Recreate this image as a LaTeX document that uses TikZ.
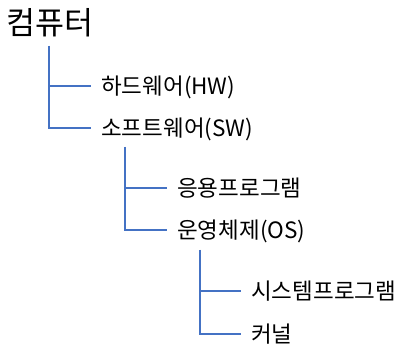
\documentclass[tikz,border=0pt]{standalone}
\usepackage{fontspec}
\setmainfont{Noto Sans CJK KR}
\definecolor{treeblue}{RGB}{68,114,196}
\tikzset{
  conn/.style={draw=treeblue, line width=2pt},
  item/.style={anchor=west, inner xsep=10pt, inner ysep=0pt,
    font=\fontsize{22.5}{26}\selectfont, text height=18.5pt, text depth=1.5pt},
  titlebox/.style={anchor=base west, inner sep=0pt, font=\fontsize{31.5}{36}\selectfont}
}
\begin{document}
\begin{tikzpicture}[x=1pt,y=-1pt]
  \useasboundingbox (0,0) rectangle (410,355);
  \node[titlebox] (root) at (6,35) {컴퓨터};
  \node[item] (hw) at (91,86) {하드웨어(HW)};
  \node[item] (sw) at (91,128) {소프트웨어(SW)};
  \node[item] (app) at (167,188) {응용프로그램};
  \node[item] (os) at (167,230) {운영체제(OS)};
  \node[item] (sys) at (241,291) {시스템프로그램};
  \node[item] (kern) at (241,334) {커널};
  \coordinate (v1) at (49,46);
  \coordinate (v2) at (125,147);
  \coordinate (v3) at (200,250);
  \draw[conn] (v1) |- (hw.west);
  \draw[conn] (v1) |- (sw.west);
  \draw[conn] (v2) |- (app.west);
  \draw[conn] (v2) |- (os.west);
  \draw[conn] (v3) |- (sys.west);
  \draw[conn] (v3) |- (kern.west);
\end{tikzpicture}
\end{document}
